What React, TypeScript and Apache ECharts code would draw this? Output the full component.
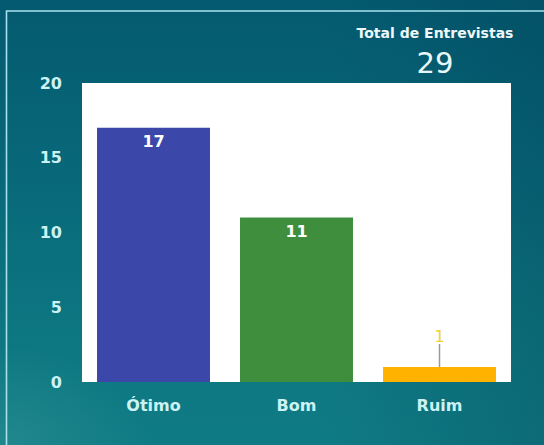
import React, { useEffect, useRef } from "react";
import * as echarts from "echarts";

const categories = ["Ótimo", "Bom", "Ruim"];
const values = [17, 11, 1];
const barColors = ["#3b48a9", "#3e8e3e", "#ffb300"];
const totalLabel = "Total de Entrevistas";
const totalValue = 29;
const yTicks = { min: 0, max: 20, interval: 5 };

const FONT = "DejaVu Sans";

export default function App() {
  const ref = useRef<HTMLDivElement>(null);

  useEffect(() => {
    if (!ref.current) return;
    const chart = echarts.init(ref.current, undefined, { renderer: "svg" });
    const data = values.map((v, i) => {
      const item: any = { value: v, itemStyle: { color: barColors[i] } };
      if (i === 2) {
        item.label = {
          position: "top",
          distance: 5,
          color: "#f2d22a",
          fontWeight: "normal",
          fontSize: 16,
        };
        item.labelLine = { show: true, lineStyle: { color: "#9a9a9a", width: 1.5 } };
      }
      return item;
    });
    chart.setOption({
      animation: false,
      backgroundColor: "transparent",
      grid: {
        left: 82,
        right: 33,
        top: 83,
        bottom: 63,
        show: true,
        backgroundColor: "#ffffff",
        borderWidth: 0,
      },
      graphic: [
        {
          type: "polyline",
          shape: { points: [[6.5, 445], [6.5, 11], [544, 11]] },
          style: { stroke: "#a6e2ee", lineWidth: 1.6, fill: "none" },
          silent: true,
        },
        {
          type: "text",
          x: 435,
          y: 33,
          style: {
            text: totalLabel,
            fill: "#eef8fa",
            font: `bold 14px "${FONT}"`,
            textAlign: "center",
            textVerticalAlign: "middle",
          },
        },
        {
          type: "text",
          x: 435,
          y: 63,
          style: {
            text: String(totalValue),
            fill: "#e8f8fa",
            font: `normal 29px "${FONT}"`,
            textAlign: "center",
            textVerticalAlign: "middle",
          },
        },
      ],
      xAxis: {
        type: "category",
        data: categories,
        axisLine: { show: false },
        axisTick: { show: false },
        splitLine: { show: false },
        axisLabel: {
          color: "#cdf2f4",
          fontFamily: FONT,
          fontWeight: "bold",
          fontSize: 16,
          margin: 15,
        },
      },
      yAxis: {
        type: "value",
        min: yTicks.min,
        max: yTicks.max,
        interval: yTicks.interval,
        axisLine: { show: false },
        axisTick: { show: false },
        splitLine: { show: false },
        axisLabel: {
          color: "#cdf2f4",
          fontFamily: FONT,
          fontWeight: "bold",
          fontSize: 16,
          margin: 20,
        },
      },
      series: [
        {
          type: "bar",
          data,
          barCategoryGap: "21%",
          label: {
            show: true,
            position: "insideTop",
            distance: 6,
            color: "#ffffff",
            fontFamily: FONT,
            fontWeight: "bold",
            fontSize: 16,
          },
          labelLayout: (params: any) =>
            params.dataIndex === 2 ? { dy: -18 } : {},
        },
      ],
    });
    return () => chart.dispose();
  }, []);

  return (
    <div
      style={{
        position: "absolute",
        left: 0,
        top: 0,
        width: 544,
        height: 445,
        background:
          "radial-gradient(ellipse 150px 100px at 0% 100%, rgba(60,155,155,0.4), rgba(60,155,155,0) 100%), linear-gradient(to right, rgba(0,0,0,0) 60%, rgba(0,50,70,0.22) 100%), linear-gradient(to bottom, #045a70 0%, #086879 40%, #0d7781 75%, #0f7b84 100%)",
      }}
    >
      <div ref={ref} style={{ width: 544, height: 445 }} />
    </div>
  );
}
